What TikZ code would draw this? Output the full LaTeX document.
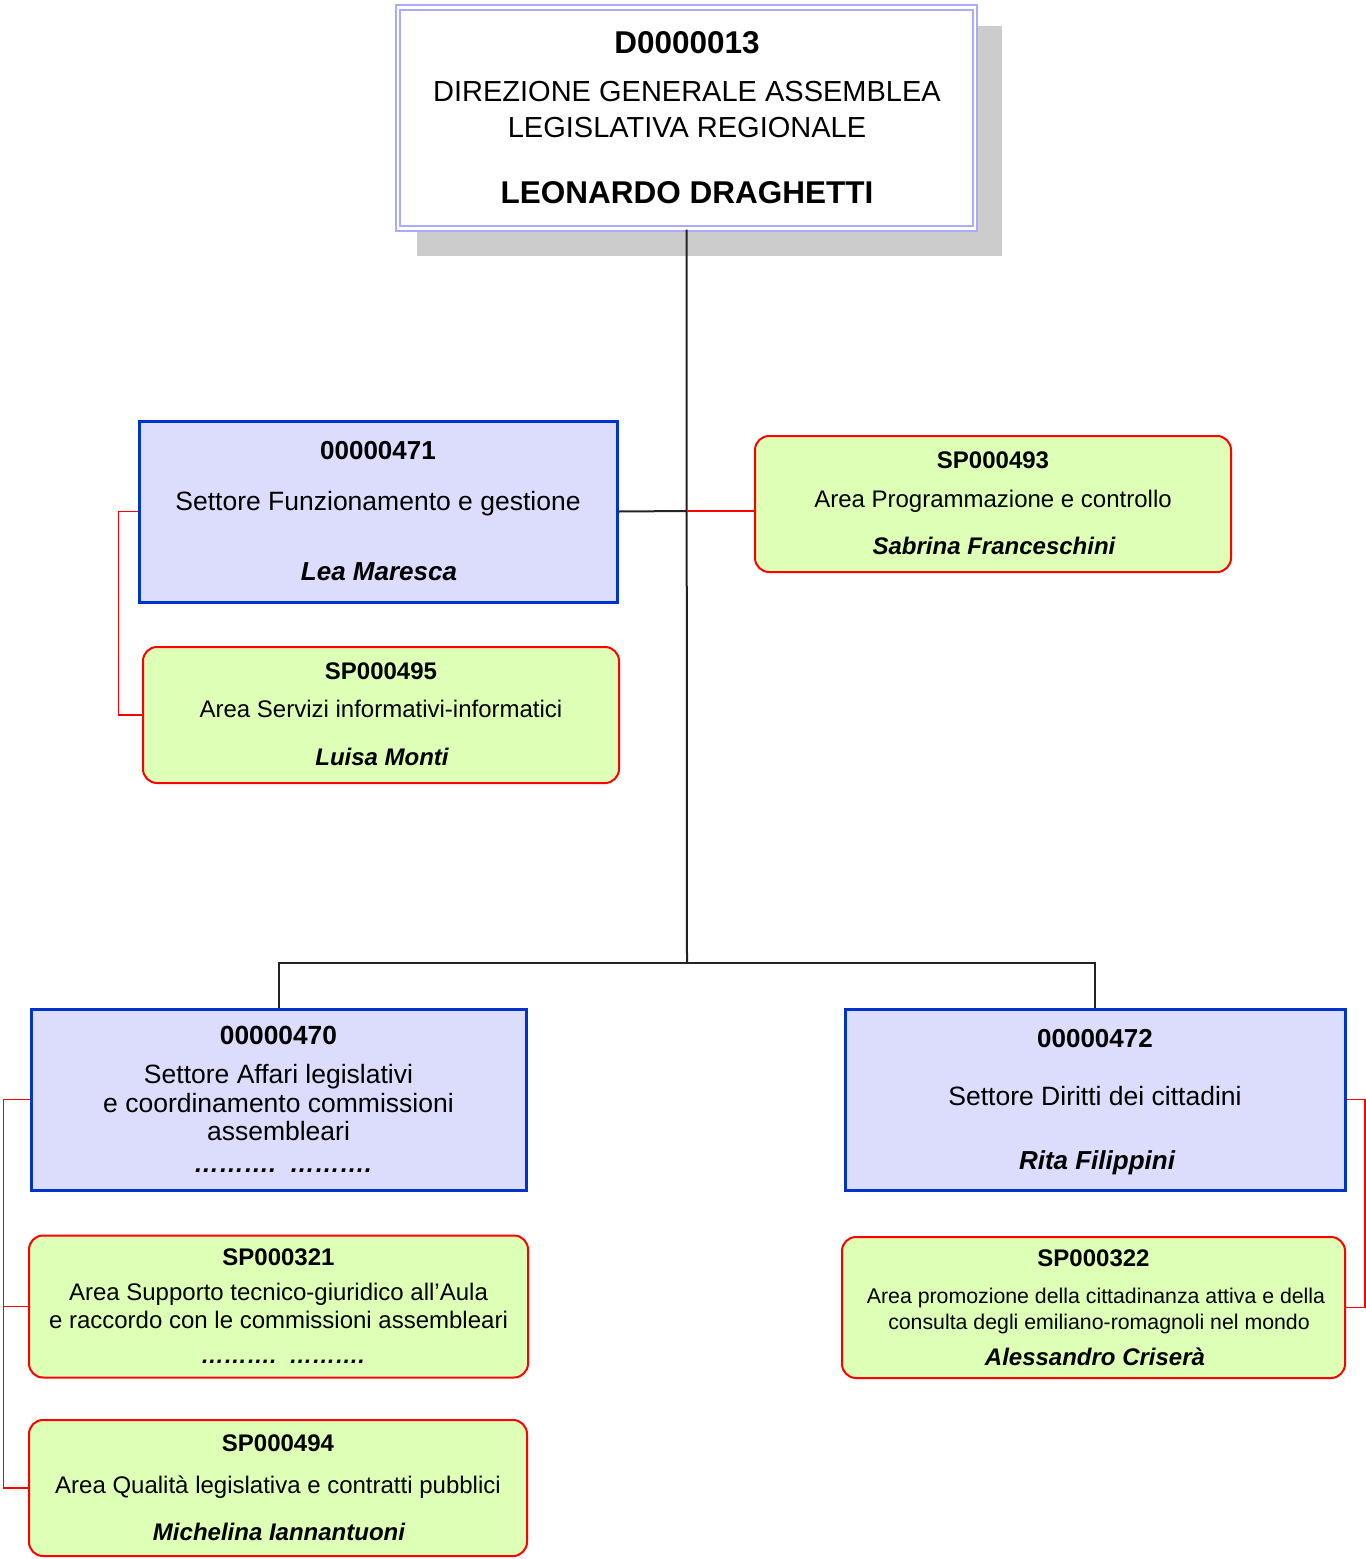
\documentclass[tikz,border=0pt]{standalone}
\usepackage{fontspec}
\setmainfont{Liberation Sans}
\definecolor{lav}{RGB}{170,170,255}
\definecolor{bluebd}{RGB}{0,51,204}
\definecolor{bluefill}{RGB}{220,220,252}
\definecolor{greenfill}{RGB}{221,255,182}
\definecolor{redbd}{RGB}{255,0,0}
\definecolor{shadowgray}{RGB}{204,204,204}
\definecolor{linegray}{RGB}{34,34,34}
\newcommand{\fs}[1]{\fontsize{#1}{#1}\selectfont}
\tikzset{
  bluebox/.style={draw=bluebd, fill=bluefill, line width=3pt, inner sep=0pt},
  greenbox/.style={draw=redbd, fill=greenfill, line width=2pt, rounded corners=14pt, inner sep=0pt},
  topbox/.style={draw=lav, fill=white, line width=2pt, double=white, double distance=2.2pt, inner sep=0pt},
  txt/.style={anchor=base, inner sep=0pt, text=black},
  blackline/.style={draw=linegray, line width=2pt},
  redline/.style={draw=redbd, line width=1.6pt},
}
\begin{document}
\begin{tikzpicture}[x=1pt,y=-1pt]
\useasboundingbox (0,0) rectangle (1366,1559);
\clip (0,0) rectangle (1366,1559);
% shadow and top box
\fill[shadowgray] (417,26) rectangle (1002,256);
\node[topbox, minimum width=577pt, minimum height=221pt] (top) at (686.5,118) {};
\node[txt, font=\fs{31.5}\bfseries] (topid) at (687,53) {D0000013};
\node[txt, font=\fs{29}] (topl1) at (687,101.5) {DIREZIONE GENERALE ASSEMBLEA};
\node[txt, font=\fs{29}] (topl2) at (687,137) {LEGISLATIVA REGIONALE};
\node[txt, font=\fs{31.5}\bfseries] (topname) at (687,203) {LEONARDO DRAGHETTI};

% connectors
\coordinate (j1) at (687,511);
\coordinate (bar) at (687,963);

% boxes
\node[bluebox, minimum width=478pt, minimum height=181pt] (s471) at (378,511.5) {};
\node[greenbox, minimum width=476pt, minimum height=136pt] (a493) at (993,504) {};
\node[greenbox, minimum width=476pt, minimum height=136pt] (a495) at (381,715) {};
\node[bluebox, minimum width=495pt, minimum height=181pt] (s470) at (278.5,1099.5) {};
\node[bluebox, minimum width=500pt, minimum height=181pt] (s472) at (1095,1099.5) {};
\node[greenbox, minimum width=499pt, minimum height=142pt] (a321) at (278.5,1306.5) {};
\node[greenbox, minimum width=498pt, minimum height=136pt] (a494) at (278,1488) {};
\node[greenbox, minimum width=503pt, minimum height=141pt] (a322) at (1093.5,1307.5) {};

\draw[blackline] (top.south) -- (bar);
\draw[blackline] (s471.east) -- (j1);
\draw[redline] (j1) -- (j1 -| a493.west);
\draw[blackline] (s470.north) -- (s470.north |- bar) -- (s472.north |- bar) -- (s472.north);
\draw[redline] (s471.west) -- ++(-19,0) |- (a495.west);
\draw[redline] (s470.west) -- ++(-26,0) coordinate (l470) |- (a494.west);
\draw[redline] (a321.west) -- (a321.west -| l470);
\draw[redline] (s472.east) -- ++(18.5,0) |- (a322.east);

% texts 471
\node[txt, font=\fs{26}\bfseries] (t471a) at (378,459) {00000471};
\node[txt, font=\fs{26.5}] (t471b) at (378,510) {Settore Funzionamento e gestione};
\node[txt, font=\fs{26}\bfseries\itshape] (t471c) at (379,580) {Lea Maresca};
% texts 493
\node[txt, font=\fs{24}\bfseries] (t493a) at (993,468.5) {SP000493};
\node[txt, font=\fs{24}] (t493b) at (993,507) {Area Programmazione e controllo};
\node[txt, font=\fs{24}\bfseries\itshape] (t493c) at (994,554) {Sabrina Franceschini};
% texts 495
\node[txt, font=\fs{24}\bfseries] (t495a) at (381,679.5) {SP000495};
\node[txt, font=\fs{24}] (t495b) at (381,717.5) {Area Servizi informativi-informatici};
\node[txt, font=\fs{24}\bfseries\itshape] (t495c) at (382,765.5) {Luisa Monti};
% texts 470
\node[txt, font=\fs{26.3}\bfseries] (t470a) at (278.5,1044) {00000470};
\node[txt, font=\fs{26.5}] (t470b) at (278.5,1083) {Settore Affari legislativi};
\node[txt, font=\fs{26.5}] (t470c) at (278.5,1112) {e coordinamento commissioni};
\node[txt, font=\fs{26.5}] (t470d) at (278.5,1140.5) {assembleari};
\node[txt, font=\fs{25}\bfseries\itshape] (t470e) at (283,1172.5) {……….\ \ ……….};
% texts 472
\node[txt, font=\fs{26}\bfseries] (t472a) at (1095,1047) {00000472};
\node[txt, font=\fs{26.5}] (t472b) at (1095,1105) {Settore Diritti dei cittadini};
\node[txt, font=\fs{26}\bfseries\itshape] (t472c) at (1097,1169) {Rita Filippini};
% texts 321
\node[txt, font=\fs{24}\bfseries] (t321a) at (278.5,1265) {SP000321};
\node[txt, font=\fs{24}] (t321b) at (278.5,1300) {Area Supporto tecnico-giuridico all’Aula};
\node[txt, font=\fs{24}] (t321c) at (278.5,1328.5) {e raccordo con le commissioni assembleari};
\node[txt, font=\fs{23}\bfseries\itshape] (t321d) at (283,1363.5) {……….\ \ ……….};
% texts 494
\node[txt, font=\fs{24}\bfseries] (t494a) at (278,1451) {SP000494};
\node[txt, font=\fs{24}] (t494b) at (278,1493.5) {Area Qualità legislativa e contratti pubblici};
\node[txt, font=\fs{24}\bfseries\itshape] (t494c) at (279,1540) {Michelina Iannantuoni};
% texts 322
\node[txt, font=\fs{24}\bfseries] (t322a) at (1093.5,1266.5) {SP000322};
\node[txt, font=\fs{21.3}] (t322b) at (1096,1303.5) {Area promozione della cittadinanza attiva e della};
\node[txt, font=\fs{21.3}] (t322c) at (1099,1329.5) {consulta degli emiliano-romagnoli nel mondo};
\node[txt, font=\fs{24}\bfseries\itshape] (t322d) at (1095,1365.5) {Alessandro Criserà};
\end{tikzpicture}
\end{document}
